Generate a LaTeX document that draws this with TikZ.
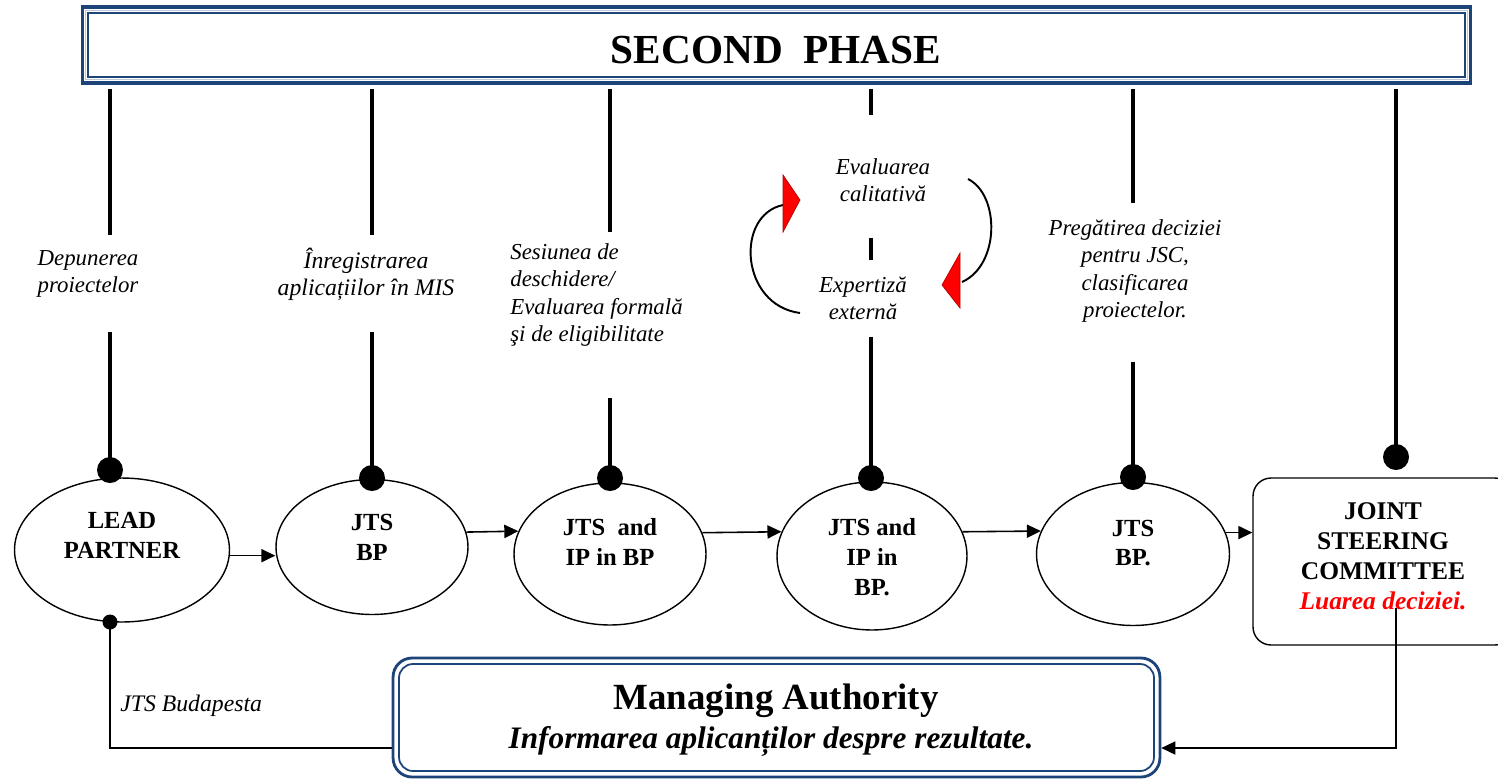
\documentclass[tikz,border=0pt]{standalone}
\usepackage{fontspec}
\setmainfont{Liberation Serif}
\usetikzlibrary{arrows.meta,shapes.geometric}
\definecolor{mablue}{RGB}{28,68,120}
\definecolor{paleblue}{RGB}{190,200,215}
\begin{document}
\begin{tikzpicture}[x=0.02cm,y=-0.02cm,
  vline/.style={line width=2.2pt},
  arr/.style={line width=0.9pt,-{Triangle[length=8pt,width=7.5pt]}},
  thinline/.style={line width=0.6pt},
  lbl/.style={font=\fontsize{13}{15.5}\selectfont\itshape,align=center,inner sep=0},
  ntext/.style={font=\fontsize{14}{17}\selectfont\bfseries,align=center,inner sep=0},
  ell/.style={draw,ellipse,line width=0.8pt,inner sep=0},
  dot/.style={circle,fill=black,inner sep=0,minimum size=0.52cm},
  smalldot/.style={circle,fill=black,inner sep=0,minimum size=0.3cm},
  redtip/.style={fill=red,draw=red!70!black,line width=0.4pt},
  looparc/.style={line width=1.1pt}]
\useasboundingbox (0,0) rectangle (1498,779);

% top box
\node[draw=mablue,line width=1.8pt,minimum width=27.78cm,minimum height=1.52cm,inner sep=0] (top) at (776.5,45) {};
\draw[paleblue,line width=0.6pt] (85.5,10.5) rectangle (1467.5,79.5);
\draw[mablue,line width=1pt] (88,13) rectangle (1465,77);
\node[font=\fontsize{23.5}{28}\selectfont\bfseries,inner sep=0] (title) at (776,50) {SECOND\ \ PHASE};

% ellipses
\node[ell,minimum width=4.30cm,minimum height=2.88cm] (lp) at (122,550) {};
\node[ell,minimum width=3.84cm,minimum height=2.70cm] (j2) at (372,547) {};
\node[ell,minimum width=3.84cm,minimum height=2.84cm] (j3) at (610,554) {};
\node[ell,minimum width=3.80cm,minimum height=2.96cm] (j4) at (872,556) {};
\node[ell,minimum width=3.86cm,minimum height=2.86cm] (j5) at (1133,554) {};
\node[draw,line width=0.8pt,rounded corners=0.36cm,minimum width=5.2cm,minimum height=3.34cm,inner sep=0] (jsc) at (1383,561.5) {};

% node texts
\node[ntext] (lpt) at (122,535) {LEAD\\PARTNER};
\node[ntext] (j2t) at (372,537) {JTS\\BP};
\node[ntext] (j3t) at (610,542) {JTS\ \ and\\IP in BP};
\node[ntext] (j4t) at (872,557) {JTS and\\IP in\\BP.};
\node[ntext] (j5t) at (1133,543) {JTS\\BP.};
\node[ntext,font=\fontsize{14.5}{17}\selectfont\bfseries] (jsct) at (1383,556) {JOINT\\STEERING\\COMMITTEE\\\textcolor{red}{\textit{Luarea deciziei.}}};

% dots
\node[dot] (d1) at (110,470) {};
\node[dot] (d2) at (372,478) {};
\node[dot] (d3) at (610,478) {};
\node[dot] (d4) at (871,478) {};
\node[dot] (d5) at (1133,477) {};
\node[dot] (d6) at (1396,457) {};

% labels
\node[lbl] (l1) at (88,274) {Depunerea\\proiectelor};
\node[lbl,font=\fontsize{13.5}{15.5}\selectfont\itshape] (l2) at (366,274) {Înregistrarea\\aplicațiilor în MIS};
\node[lbl,align=left,anchor=west] (l3) at (510,295) {Sesiunea de\\deschidere/\\Evaluarea formală\\şi de eligibilitate};
\node[lbl] (l4a) at (883,180) {Evaluarea\\calitativă};
\node[lbl] (l4b) at (863,298) {Expertiză\\externă};
\node[lbl] (l5) at (1135,271) {Pregătirea deciziei\\pentru JSC,\\clasificarea\\proiectelor.};

% vertical lines
\draw[vline] (110,89) -- (110,235);
\draw[vline] (110,332) -- (d1.center);
\draw[vline] (372,89) -- (372,235);
\draw[vline] (372,332) -- (d2.center);
\draw[vline] (610,89) -- (610,232);
\draw[vline] (610,398) -- (d3.center);
\draw[vline] (871,89) -- (871,115);
\draw[vline] (871,238) -- (871,260);
\draw[vline] (871,337) -- (d4.center);
\draw[vline] (1133,89) -- (1133,203);
\draw[vline] (1133,362) -- (d5.center);
\draw[vline] (1396,89) -- (d6.center);

% loop arcs
\draw[looparc] (800,313) .. controls (740,305) and (735,215) .. (783,205);
\draw[looparc] (968,179) .. controls (1000,195) and (1000,265) .. (962,282);
\path[redtip] (783,175) -- (800,200) -- (783,232) -- cycle;
\path[redtip] (960,253) -- (942,285) -- (960,308) -- cycle;

% horizontal arrows
\draw[arr] (lp.-3) -- (lp.-3 -| j2.west);
\draw[arr] (j2.9) -- (j3.166.5);
\draw[arr] (j3.13.5) -- (j4.165);
\draw[arr] (j4.15) -- (j5.166.5);
\draw[arr] (j5.13.5) -- (j5.13.5 -| jsc.west);

% managing authority
\node[draw=mablue,line width=1.6pt,rounded corners=0.38cm,minimum width=15.34cm,minimum height=2.38cm,inner sep=0] (ma) at (776.5,717.5) {};
\draw[mablue,line width=1pt,rounded corners=0.28cm] (399,664) rectangle (1154,771);
\node[font=\fontsize{21}{22}\selectfont\bfseries,inner sep=0] (mat1) at (776,701) {Managing Authority};
\node[font=\fontsize{17.8}{22}\selectfont\bfseries\itshape,inner sep=0] (mat2) at (771,741) {Informarea aplicanților despre rezultate.};

% bottom connectors
\node[smalldot] (bd) at (110,622) {};
\coordinate (yb) at (0,748);
\coordinate (jscb) at (1396,608);
\draw[thinline] (bd.center) |- (ma.west |- yb);
\draw[arr,line width=0.7pt] (jscb) |- (ma.east |- yb);
\node[lbl,anchor=west,font=\fontsize{13.5}{15.5}\selectfont\itshape] (jtsb) at (120,706) {JTS Budapesta};
\end{tikzpicture}
\end{document}
